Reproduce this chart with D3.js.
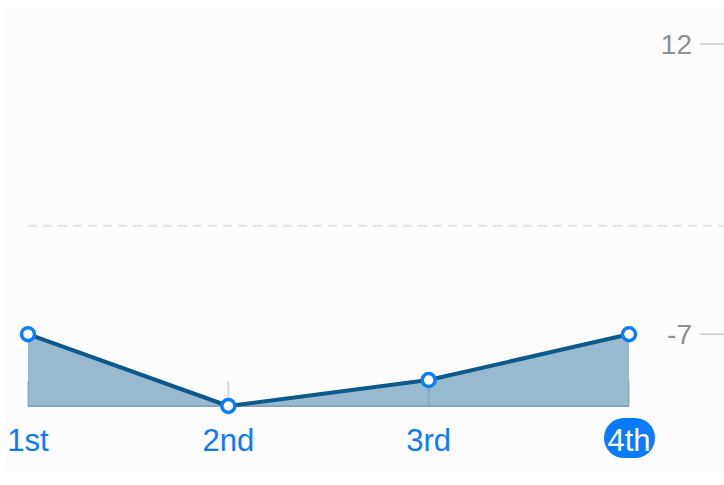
<!DOCTYPE html>
<html>
<head>
<meta charset="utf-8">
<script src="https://cdn.jsdelivr.net/npm/d3@7"></script>
<style>
  body { margin: 0; background: #ffffff; }
  text { font-family: "Liberation Sans", Arial, sans-serif; }
</style>
</head>
<body>
<svg id="chart" width="724" height="485"></svg>
<script>
// data
var categories = ['1st', '2nd', '3rd', '4th']
var values = [-7, -11.7, -10, -7]
var yTickValues = [12, -7]
var gridValues = [0.1]
var selected = '4th'

var width = 724
var height = 485

var svg = d3.select('#chart')

// faint panel behind the chart
svg.append('rect')
  .attr('x', 5).attr('y', 8)
  .attr('width', width - 5).attr('height', 465)
  .attr('fill', '#fcfcfc')

var x = d3.scalePoint().domain(categories).range([28, 629])
var y = d3.scaleLinear().domain([d3.min(values), 12]).range([406, 44])

var data = categories.map(function (c, i) { return { cat: c, val: values[i] } })

// dashed zero line
svg.append('g').selectAll('line')
  .data(gridValues)
  .enter().append('line')
    .attr('x1', 28).attr('x2', width)
    .attr('y1', function (d) { return y(d) })
    .attr('y2', function (d) { return y(d) })
    .attr('stroke', '#e2e2e2')
    .attr('stroke-width', 2)
    .attr('stroke-dasharray', '9,6')

// area
var area = d3.area()
  .x(function (d) { return x(d.cat) })
  .y0(y(d3.min(values)))
  .y1(function (d) { return y(d.val) })

svg.append('path')
  .datum(data)
  .attr('d', area)
  .attr('fill', '#97bacf')

// baseline
svg.append('line')
  .attr('x1', x(categories[0])).attr('x2', x(categories[categories.length - 1]))
  .attr('y1', y(d3.min(values))).attr('y2', y(d3.min(values)))
  .attr('stroke', '#86a7bb')
  .attr('stroke-width', 2)

// x ticks
svg.append('g').selectAll('line')
  .data(categories)
  .enter().append('line')
    .attr('x1', function (d) { return x(d) })
    .attr('x2', function (d) { return x(d) })
    .attr('y1', y(d3.min(values)) - 25)
    .attr('y2', y(d3.min(values)))
    .attr('stroke', 'rgba(120,130,140,0.3)')
    .attr('stroke-width', 2)

// line
var line = d3.line()
  .x(function (d) { return x(d.cat) })
  .y(function (d) { return y(d.val) })

svg.append('path')
  .datum(data)
  .attr('d', line)
  .attr('fill', 'none')
  .attr('stroke', '#0b5a8b')
  .attr('stroke-width', 4)
  .attr('stroke-linejoin', 'round')

// points
svg.append('g').selectAll('circle')
  .data(data)
  .enter().append('circle')
    .attr('cx', function (d) { return x(d.cat) })
    .attr('cy', function (d) { return y(d.val) })
    .attr('r', 6.5)
    .attr('fill', '#ffffff')
    .attr('stroke', '#0a7dff')
    .attr('stroke-width', 3.5)

// x labels
var xl = svg.append('g')
xl.selectAll('rect')
  .data(categories.filter(function (c) { return c === selected }))
  .enter().append('rect')
    .attr('x', function (d) { return x(d) - 25 })
    .attr('y', 418)
    .attr('width', 51).attr('height', 40)
    .attr('rx', 20)
    .attr('fill', '#0a7aff')

xl.selectAll('text')
  .data(categories)
  .enter().append('text')
    .attr('x', function (d) { return x(d) })
    .attr('y', 451)
    .attr('text-anchor', 'middle')
    .attr('font-size', 31)
    .attr('fill', function (d) { return d === selected ? '#ffffff' : '#0a7aff' })
    .text(function (d) { return d })

// y axis on the right
var ya = svg.append('g')
ya.selectAll('line')
  .data(yTickValues)
  .enter().append('line')
    .attr('x1', 700).attr('x2', width)
    .attr('y1', function (d) { return y(d) })
    .attr('y2', function (d) { return y(d) })
    .attr('stroke', '#cfcfcf')
    .attr('stroke-width', 1.5)

ya.selectAll('text')
  .data(yTickValues)
  .enter().append('text')
    .attr('x', 692)
    .attr('y', function (d) { return y(d) + 10 })
    .attr('text-anchor', 'end')
    .attr('font-size', 28)
    .attr('fill', '#8e8e93')
    .text(function (d) { return d })
</script>
</body>
</html>
